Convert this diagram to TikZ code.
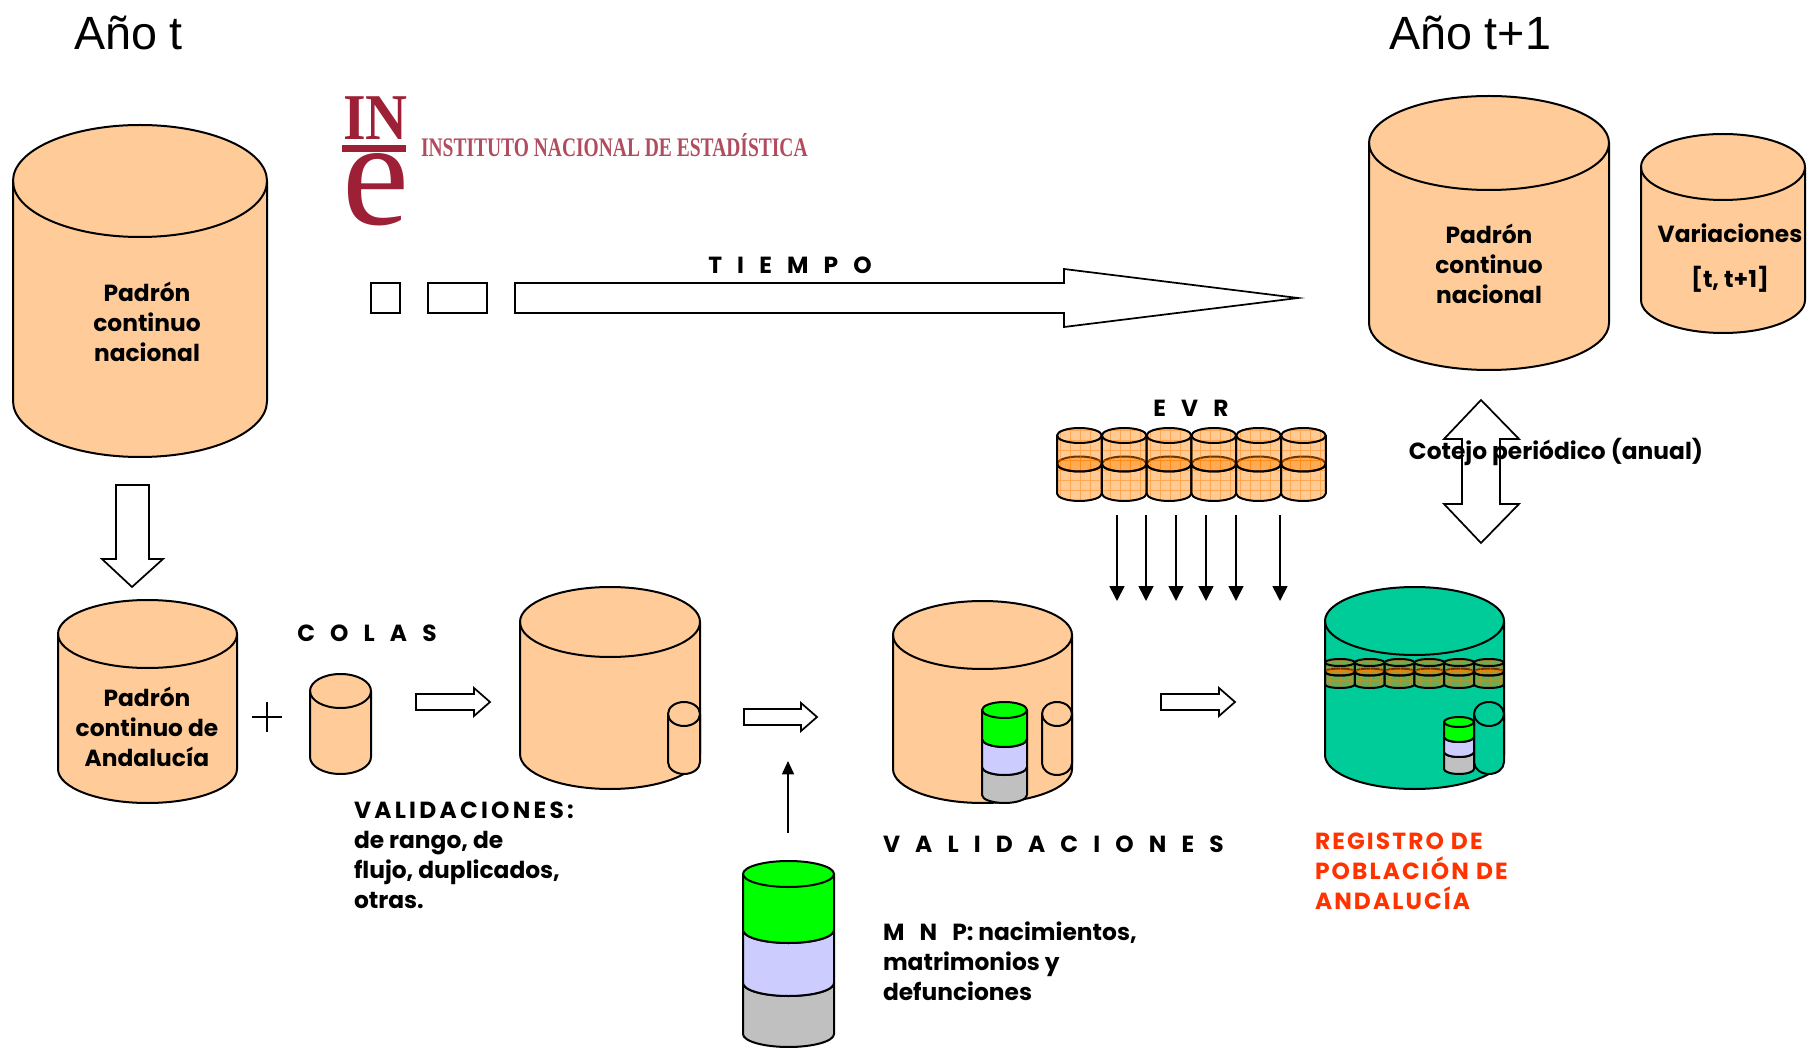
\documentclass[tikz,border=0pt]{standalone}
\usepackage{fontspec}
\setmainfont{Poppins}
\newfontfamily\arialfont{Liberation Sans}
\newfontfamily\timesfont{Liberation Serif}
\newfontfamily\logofont[FakeStretch=0.89]{Liberation Serif}
\usetikzlibrary{arrows.meta}

\definecolor{piel}{RGB}{255,204,153}
\definecolor{verdeand}{RGB}{0,204,153}
\definecolor{lima}{RGB}{0,255,0}
\definecolor{lavanda}{RGB}{204,204,255}
\definecolor{gris}{RGB}{192,192,192}
\definecolor{rojoine}{RGB}{158,32,54}
\definecolor{naranjareg}{RGB}{255,51,0}

\tikzset{every picture/.style={line width=1.5pt}}
\tikzset{
	cil/.style={draw=black,line join=round},
	bloque/.style={draw=black,fill=white,line width=1.3pt,line join=miter},
	evrcil/.style={fill=orange,fill opacity=0.42,path picture={
		\draw[orange,line width=0.5pt,draw opacity=0.45] (path picture bounding box.south west) grid[step=10] (path picture bounding box.north east);}},
	flecha/.style={line width=1.3pt,-{Triangle[width=11.25pt,length=11.25pt]}},
	flechita/.style={line width=1.3pt,-{Triangle[width=9pt,length=10pt]}},
	rotulo/.style={font=\fontsize{17.5}{22.5}\selectfont\bfseries,align=center,inner sep=0pt},
	rotuloizq/.style={rotulo,align=left,anchor=west},
	anio/.style={font=\arialfont\fontsize{35}{40}\selectfont,inner sep=0pt}
}
\newcommand{\separado}[1]{{\spaceskip=0.65em\relax #1}}

% style, x1, x2, y top, y bottom, y radius
\newcommand{\cilindro}[6][]{%
	\pgfmathsetmacro\rxcil{(#3-#2)/2}
	\draw[cil,#1] (#2,#4+#6) -- (#2,#5-#6) arc[start angle=180,end angle=0,x radius=\rxcil,y radius=#6] -- (#3,#4+#6) arc[start angle=0,end angle=-180,x radius=\rxcil,y radius=#6] -- cycle;
	\draw[cil] (#2,#4+#6) arc[start angle=180,end angle=0,x radius=\rxcil,y radius=#6];
}
% x1, x2, y top, y green end, y lavender end, y bottom, y radius
\newcommand{\pila}[7]{%
	\cilindro[fill=gris]{#1}{#2}{#5-2*#7}{#6}{#7}
	\cilindro[fill=lavanda]{#1}{#2}{#4-2*#7}{#5}{#7}
	\cilindro[fill=lima]{#1}{#2}{#3}{#4}{#7}
}
% x start, width, y top, y middle, y bottom, y radius
\newcommand{\filaevr}[6]{%
	\foreach \i in {0,...,5}{
		\pgfmathsetmacro\xa{#1+\i*#2}
		\pgfmathsetmacro\xb{#1+(\i+1)*#2}
		\cilindro[evrcil]{\xa}{\xb}{#4-#6}{#5}{#6}
		\cilindro[evrcil]{\xa}{\xb}{#3}{#4+#6}{#6}
	}
}
% x1, x2, x head, y centre, half shaft, half head
\newcommand{\flechabloque}[6]{%
	\draw[bloque] (#1,#4-#5) -- (#3,#4-#5) -- (#3,#4-#6) -- (#2,#4) -- (#3,#4+#6) -- (#3,#4+#5) -- (#1,#4+#5) -- cycle;
}

\begin{document}
\begin{tikzpicture}[x=0.75pt,y=0.75pt,yscale=-1,xscale=1]
	\useasboundingbox (0,0) rectangle (1807,1048);

	% Titles
	\node[anio,anchor=west] (aniot) at (73,33) {Año t};
	\node[anio,anchor=west] (aniot1) at (1388,33) {Año t+1};

	% Logo
	\node[font=\logofont\bfseries\fontsize{49}{49}\selectfont,text=rojoine,inner sep=0pt,anchor=base west] (logoin) at (342,140) {IN};
	\fill[rojoine] (342,145) rectangle (406,152);
	\node[font=\timesfont\fontsize{113}{113}\selectfont,text=rojoine,inner sep=0pt,anchor=base west] (logoe) at (341,225) {e};
	\node[text=rojoine!80,inner sep=0pt,anchor=south west] (logotxt) at (420,158) {\resizebox{290pt}{17.25pt}{\timesfont\bfseries INSTITUTO NACIONAL DE ESTADÍSTICA}};

	% Padron t
	\cilindro[fill=piel]{13}{267}{125}{457}{56}
	\node[rotulo] (padront) at (147,322) {Padrón\\continuo\\nacional};

	% Tiempo
	\draw[bloque] (371,283) rectangle (400,313);
	\draw[bloque] (428,283) rectangle (487,313);
	\flechabloque{515}{1298}{1064}{298}{15}{29}
	\node[rotulo] (tiempo) at (790,265) {\separado{T I E M P O}};

	% Padron t+1
	\cilindro[fill=piel]{1369}{1609}{96}{370}{47}
	\node[rotulo] (padront1) at (1489,264) {Padrón\\continuo\\nacional};
	\cilindro[fill=piel]{1641}{1805}{134}{333}{33}
	\node[rotulo] (variaciones) at (1730,233) {Variaciones};
	\node[rotulo] (corchete) at (1730,279) {[t, t+1]};

	% EVR
	\node[rotulo] (evr) at (1191,408) {\separado{E V R}};
	\filaevr{1057}{44.8}{428}{464}{501}{7.5}
	\foreach \x [count=\n] in {1117,1146,1176,1206,1236,1280}{
		\coordinate (evrini\n) at (\x,515);
		\coordinate (evrfin\n) at (\x,601);
		\draw[flecha] (evrini\n) -- (evrfin\n);
	}

	% Cotejo
	\draw[bloque] (1462,439) -- (1444,439) -- (1481,400) -- (1519,439) -- (1500,439) -- (1500,504) -- (1519,504) -- (1481,543) -- (1444,504) -- (1462,504) -- cycle;
	\node[rotulo] (cotejo) at (1556,452) {Cotejo periódico (anual)};

	% Padron t -> Andalucia
	\draw[bloque] (116,485) -- (149,485) -- (149,559) -- (163,559) -- (132,587) -- (102,559) -- (116,559) -- cycle;
	\cilindro[fill=piel]{58}{237}{600}{803}{34}
	\node[rotulo] (andalucia) at (147,727) {Padrón\\continuo de\\Andalucía};

	% Plus
	\draw[line width=1pt] (252,717) -- (282,717) (267,702) -- (267,732);

	% Colas
	\node[rotulo] (colas) at (367,633) {\separado{C O L A S}};
	\cilindro[fill=piel]{310}{371}{674}{774}{17}
	\flechabloque{416}{490}{474}{702}{8}{14}

	% Middle cylinder
	\cilindro[fill=piel]{520}{700}{587}{789}{35}
	\cilindro[fill=piel]{668}{700}{702}{774}{12}
	\flechabloque{744}{817}{801}{717}{8}{14}
	\node[rotuloizq] (validaciones) at (353,855) {{\addfontfeature{LetterSpace=14}VALIDACIONES:}\\de rango, de\\flujo, duplicados,\\otras.};

	% MNP stack
	\coordinate (mnpini) at (788,833);
	\coordinate (mnpfin) at (788,761);
	\draw[flechita] (mnpini) -- (mnpfin);
	\pila{743}{834}{861}{943}{996}{1047}{13}

	% Validated cylinder
	\cilindro[fill=piel]{893}{1072}{601}{803}{34}
	\cilindro[fill=piel]{1042}{1072}{702}{775}{12}
	\pila{982}{1027}{702}{747}{775}{803}{8}
	\flechabloque{1161}{1235}{1219}{702}{8}{14}
	\node[rotulo,anchor=west] (valida) at (882,844) {\separado{V A L I D A C I O N E S}};
	\node[rotuloizq] (mnp) at (882,961) {\separado{M N P:} nacimientos,\\matrimonios y\\defunciones};

	% Registro
	\cilindro[fill=verdeand]{1325}{1504}{587}{789}{34}
	\filaevr{1325}{29.8}{659}{672}{688}{3.5}
	\cilindro[fill=verdeand]{1474}{1504}{702}{774}{12}
	\pila{1444}{1474}{717}{742}{757}{774}{5}
	\node[rotuloizq,text=naranjareg] (registro) at (1314,871) {{\addfontfeature{LetterSpace=9}REGISTRO DE}\\{\addfontfeature{LetterSpace=9}POBLACIÓN DE}\\{\addfontfeature{LetterSpace=9}ANDALUCÍA}};
\end{tikzpicture}
\end{document}
